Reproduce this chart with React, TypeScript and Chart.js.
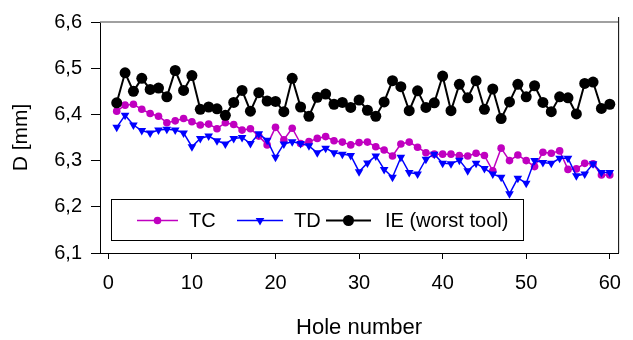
import React, { useEffect, useRef } from "react";
import { Chart, registerables } from "chart.js";

Chart.register(...registerables);

const HOLES = Array.from({ length: 60 }, (_, i) => i + 1);
const X_TICKS = [0, 10, 20, 30, 40, 50, 60];
const Y_TICKS = [6.1, 6.2, 6.3, 6.4, 6.5, 6.6];

const TC = [
  6.407, 6.42, 6.422, 6.411, 6.402, 6.396, 6.382, 6.386, 6.391, 6.384,
  6.377, 6.379, 6.369, 6.382, 6.378, 6.366, 6.369, 6.353, 6.334, 6.372,
  6.345, 6.37, 6.337, 6.341, 6.348, 6.352, 6.343, 6.34, 6.334, 6.339,
  6.34, 6.33, 6.323, 6.31, 6.336, 6.34, 6.329, 6.317, 6.314, 6.314,
  6.314, 6.311, 6.31, 6.316, 6.311, 6.278, 6.327, 6.3, 6.312, 6.3,
  6.287, 6.318, 6.316, 6.321, 6.281, 6.282, 6.294, 6.293, 6.269, 6.269,
];
const TD = [
  6.372, 6.398, 6.377, 6.365, 6.36, 6.366, 6.368, 6.366, 6.36, 6.33,
  6.348, 6.353, 6.343, 6.336, 6.348, 6.35, 6.337, 6.358, 6.344, 6.307,
  6.336, 6.341, 6.337, 6.332, 6.317, 6.327, 6.317, 6.314, 6.311, 6.276,
  6.295, 6.31, 6.281, 6.264, 6.307, 6.274, 6.271, 6.303, 6.314, 6.294,
  6.293, 6.301, 6.278, 6.294, 6.283, 6.271, 6.264, 6.228, 6.262, 6.251,
  6.3, 6.296, 6.294, 6.305, 6.305, 6.267, 6.271, 6.293, 6.274, 6.274,
];
const IE = [
  6.425, 6.49, 6.45, 6.478, 6.454, 6.457, 6.438, 6.495, 6.452, 6.484,
  6.411, 6.416, 6.412, 6.398, 6.426, 6.452, 6.407, 6.447, 6.429, 6.428,
  6.406, 6.478, 6.416, 6.396, 6.437, 6.444, 6.422, 6.426, 6.415, 6.431,
  6.409, 6.396, 6.427, 6.473, 6.46, 6.408, 6.451, 6.415, 6.425, 6.483,
  6.408, 6.465, 6.436, 6.473, 6.411, 6.455, 6.391, 6.427, 6.465, 6.438,
  6.462, 6.426, 6.406, 6.438, 6.436, 6.401, 6.467, 6.47, 6.413, 6.422,
];

const FONT = "'Liberation Sans', Arial, sans-serif";
const MAGENTA = "#C000C0";
const BLUE = "#0000FF";
const BLACK = "#000000";

const toPoints = (vals: number[]) => vals.map((v, i) => ({ x: HOLES[i], y: v }));

function drawMarker(ctx: CanvasRenderingContext2D, style: string, x: number, y: number, r: number, color: string) {
  ctx.save();
  ctx.fillStyle = color;
  ctx.beginPath();
  if (style === "triangle") {
    const a = Math.PI / 2;
    for (let k = 0; k < 3; k++) {
      const ang = a + (k * 2 * Math.PI) / 3;
      const px = x + Math.cos(ang) * r;
      const py = y + Math.sin(ang) * r;
      if (k === 0) ctx.moveTo(px, py);
      else ctx.lineTo(px, py);
    }
    ctx.closePath();
  } else {
    ctx.arc(x, y, r, 0, Math.PI * 2);
  }
  ctx.fill();
  ctx.restore();
}

const framePlugin = {
  id: "frame",
  afterDraw(chart: any) {
    const { ctx, chartArea } = chart;
    ctx.save();
    ctx.strokeStyle = "#808080";
    ctx.lineWidth = 1.5;
    ctx.beginPath();
    ctx.moveTo(chartArea.left, chartArea.top);
    ctx.lineTo(chartArea.right, chartArea.top);
    ctx.stroke();
    ctx.strokeStyle = "#000";
    ctx.lineWidth = 1;
    ctx.beginPath();
    ctx.moveTo(chartArea.right + 0.5, chartArea.top - 5);
    ctx.lineTo(chartArea.right + 0.5, chartArea.bottom);
    ctx.stroke();
    ctx.restore();
  },
};

const legendPlugin = {
  id: "customLegend",
  afterDraw(chart: any) {
    const { ctx } = chart;
    const boxX = 111.5, boxY = 199.5, boxW = 412, boxH = 41;
    const cy = boxY + boxH / 2 + 0.5;
    ctx.save();
    ctx.fillStyle = "#fff";
    ctx.fillRect(boxX, boxY, boxW, boxH);
    ctx.strokeStyle = "#000";
    ctx.lineWidth = 1;
    ctx.strokeRect(boxX, boxY, boxW, boxH);
    const items = [
      { ds: 0, x1: 137, x2: 178, tx: 189 },
      { ds: 1, x1: 237, x2: 283, tx: 294 },
      { ds: 2, x1: 326, x2: 371, tx: 385 },
    ];
    ctx.font = `20px ${FONT}`;
    ctx.textBaseline = "middle";
    ctx.textAlign = "left";
    items.forEach((it) => {
      const ds = chart.data.datasets[it.ds];
      ctx.strokeStyle = ds.borderColor;
      ctx.lineWidth = ds.borderWidth;
      ctx.beginPath();
      ctx.moveTo(it.x1, cy);
      ctx.lineTo(it.x2, cy);
      ctx.stroke();
      drawMarker(ctx, ds.pointStyle, (it.x1 + it.x2) / 2, cy, ds.pointRadius, ds.borderColor);
      ctx.fillStyle = "#000";
      ctx.fillText(ds.label, it.tx, cy + 1);
    });
    ctx.restore();
  },
};

export default function App() {
  const ref = useRef<HTMLCanvasElement>(null);
  useEffect(() => {
    if (!ref.current) return;
    const chart = new Chart(ref.current, {
      type: "line",
      data: {
        datasets: [
          {
            label: "TC",
            data: toPoints(TC),
            borderColor: MAGENTA,
            backgroundColor: MAGENTA,
            pointBackgroundColor: MAGENTA,
            pointBorderColor: MAGENTA,
            borderWidth: 1.5,
            pointRadius: 3.8,
            pointBorderWidth: 0,
            pointStyle: "circle",
            tension: 0,
            order: 3,
          },
          {
            label: "TD",
            data: toPoints(TD),
            borderColor: BLUE,
            backgroundColor: BLUE,
            pointBackgroundColor: BLUE,
            pointBorderColor: BLUE,
            borderWidth: 1.5,
            pointRadius: 5,
            pointBorderWidth: 0,
            pointStyle: "triangle",
            pointRotation: 180,
            tension: 0,
            order: 2,
          },
          {
            label: "IE (worst tool)",
            data: toPoints(IE),
            borderColor: BLACK,
            backgroundColor: BLACK,
            pointBackgroundColor: BLACK,
            pointBorderColor: BLACK,
            borderWidth: 2,
            pointRadius: 5.5,
            pointBorderWidth: 0,
            pointStyle: "circle",
            tension: 0,
            order: 1,
          },
        ] as any,
      },
      options: {
        responsive: false,
        animation: false,
        events: [],
        layout: { padding: { left: 0, right: 6, top: 22, bottom: 0 } },
        plugins: { legend: { display: false }, tooltip: { enabled: false } },
        scales: {
          x: {
            type: "linear",
            min: -1,
            max: 61,
            afterBuildTicks: (s: any) => {
              s.ticks = X_TICKS.map((v) => ({ value: v }));
            },
            afterFit: (s: any) => {
              s.height = 87;
            },
            grid: { drawOnChartArea: false, tickLength: 6, color: "#000", lineWidth: 1 },
            border: { color: "#000", width: 1 },
            ticks: {
              font: { family: FONT, size: 20 },
              color: "#000",
              padding: 12,
              maxRotation: 0,
              autoSkip: false,
              callback: (v: any) => String(v),
            },
            title: {
              display: true,
              text: "Hole number",
              font: { family: FONT, size: 22, lineHeight: 1.1 },
              color: "#000",
              padding: 0,
            },
          },
          y: {
            min: 6.1,
            max: 6.6,
            afterBuildTicks: (s: any) => {
              s.ticks = Y_TICKS.map((v) => ({ value: v }));
            },
            afterFit: (s: any) => {
              s.width = 100;
            },
            grid: { drawOnChartArea: false, tickLength: 9, color: "#000", lineWidth: 1 },
            border: { color: "#000", width: 1 },
            ticks: {
              font: { family: FONT, size: 20 },
              color: "#000",
              padding: 9,
              callback: (v: any) => Number(v).toFixed(1).replace(".", ","),
            },
            title: {
              display: true,
              text: "D [mm]",
              font: { family: FONT, size: 21, lineHeight: 1.2 },
              color: "#000",
              padding: { top: 9, bottom: 0 },
            },
          },
        },
      } as any,
      plugins: [framePlugin, legendPlugin],
    });
    return () => chart.destroy();
  }, []);
  return (
    <div style={{ position: "absolute", left: 0, top: 0, width: 633, height: 340, background: "#fff" }}>
      <canvas ref={ref} width={633} height={340} style={{ display: "block" }} />
    </div>
  );
}
